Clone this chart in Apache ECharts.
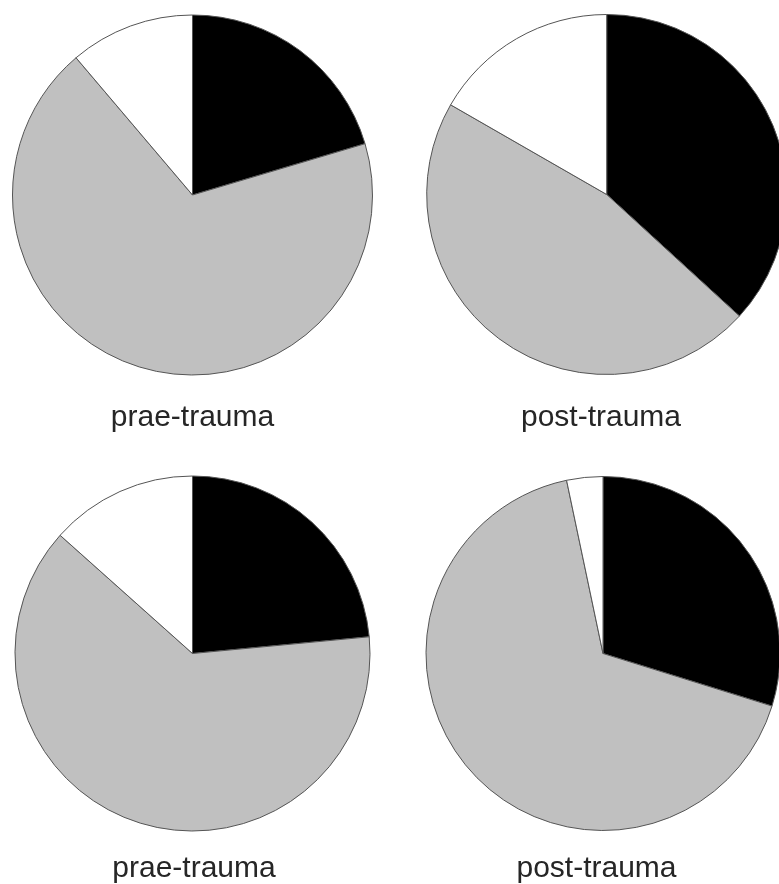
<!DOCTYPE html>
<html>
<head>
<meta charset="utf-8">
<style>
  html, body { margin: 0; padding: 0; background: #ffffff; }
  #chart { width: 779px; height: 884px; }
</style>
<script src="https://cdn.jsdelivr.net/npm/echarts@6/dist/echarts.min.js"></script>
</head>
<body>
<div id="chart"></div>
<script>
// Categories (slice order, clockwise from 12 o'clock)
const categories = ['black', 'grey', 'white'];
// Panel titles
const panelTitles = ['prae-trauma', 'post-trauma', 'prae-trauma', 'post-trauma'];
// Slice values (percent) per panel
const topLeftValues = [20.4, 68.4, 11.2];
const topRightValues = [36.8, 46.5, 16.7];
const bottomLeftValues = [23.5, 63.1, 13.4];
const bottomRightValues = [29.8, 66.9, 3.3];

const sliceColors = ['#000000', '#c0c0c0', '#ffffff'];
const panelValues = [topLeftValues, topRightValues, bottomLeftValues, bottomRightValues];
const panelCenters = [[192.5, 195], [606.7, 194.5], [192.5, 653.5], [603, 653.5]];
const panelRadii = [180, 180, 177.5, 177];
const titlePos = [[192.5, 403], [601, 403], [194, 854], [596.5, 854]];

const chart = echarts.init(document.getElementById('chart'), null, { renderer: 'canvas' });

const series = panelValues.map((vals, i) => ({
  type: 'pie',
  center: panelCenters[i],
  radius: [0, panelRadii[i]],
  startAngle: 90,
  clockwise: true,
  silent: true,
  animation: false,
  label: { show: false },
  labelLine: { show: false },
  emphasis: { disabled: true },
  itemStyle: { borderColor: '#555555', borderWidth: 1 },
  data: vals.map((v, k) => ({ name: categories[k], value: v, itemStyle: { color: sliceColors[k] } }))
}));

const title = panelTitles.map((t, i) => ({
  text: t,
  left: titlePos[i][0],
  top: titlePos[i][1],
  textAlign: 'center',
  padding: 0,
  textStyle: { fontFamily: 'Liberation Sans, Arial, sans-serif', fontSize: 30, fontWeight: 'normal', color: '#262626' }
}));

chart.setOption({
  backgroundColor: '#ffffff',
  animation: false,
  title: title,
  series: series
});
</script>
</body>
</html>
